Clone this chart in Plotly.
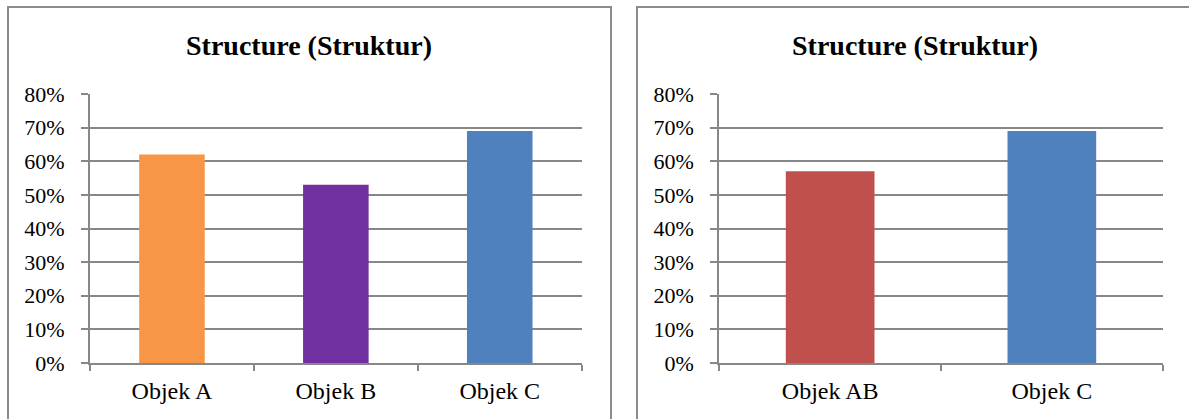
import plotly.graph_objects as go

W, H = 1189, 419

# Chart data
left_categories = ["Objek A", "Objek B", "Objek C"]
left_values = [0.62, 0.53, 0.69]
left_colors = ["#F79646", "#7030A0", "#4F81BD"]

right_categories = ["Objek AB", "Objek C"]
right_values = [0.57, 0.69]
right_colors = ["#C0504D", "#4F81BD"]

chart_title = "Structure (Struktur)"
y_tick_values = [0, 0.1, 0.2, 0.3, 0.4, 0.5, 0.6, 0.7, 0.8]
y_tick_labels = ["0%", "10%", "20%", "30%", "40%", "50%", "60%", "70%", "80%"]

FONT = "Liberation Serif, Times New Roman, serif"
GRID = "#878787"


def px_x(p):
    return p / W


def px_y(p):
    return 1 - p / H


fig = go.Figure()
fig.add_trace(go.Bar(x=left_categories, y=left_values, marker=dict(color=left_colors, line=dict(width=0)),
                     xaxis="x", yaxis="y", showlegend=False))
fig.add_trace(go.Bar(x=right_categories, y=right_values, marker=dict(color=right_colors, line=dict(width=0)),
                     xaxis="x2", yaxis="y2", showlegend=False))

y_domain = [px_y(363), px_y(94)]

common_x = dict(
    type="category", showgrid=False, showline=True, linecolor=GRID, linewidth=2,
    ticks="outside", tickson="boundaries", ticklen=6, tickcolor=GRID, tickwidth=2,
    tickfont=dict(family=FONT, size=24, color="black"), fixedrange=True,
    automargin=False, ticklabelstandoff=5,
)
common_y = dict(
    range=[0, 0.8], tickvals=y_tick_values, ticktext=y_tick_labels,
    showgrid=True, gridcolor=GRID, gridwidth=2, zeroline=False,
    showline=True, linecolor=GRID, linewidth=2,
    ticks="outside", ticklen=7, tickcolor=GRID, tickwidth=2,
    tickfont=dict(family=FONT, size=22, color="black"), fixedrange=True,
    automargin=False, ticklabelstandoff=12,
)

fig.update_layout(
    template="none",
    width=W, height=H,
    margin=dict(l=0, r=0, t=0, b=0, pad=0),
    paper_bgcolor="white", plot_bgcolor="white",
    bargap=0.6,
    xaxis=dict(domain=[px_x(90), px_x(581.7)], anchor="y", **common_x),
    yaxis=dict(domain=y_domain, anchor="x", **common_y),
    xaxis2=dict(domain=[px_x(719.3), px_x(1162.7)], anchor="y2", **common_x),
    yaxis2=dict(domain=y_domain, anchor="x2", **common_y),
)

# Panel frames
for x0, x1 in [(8, 611), (637, 1195)]:
    fig.add_shape(type="rect", xref="paper", yref="paper",
                  x0=px_x(x0), x1=px_x(x1), y0=px_y(430), y1=px_y(7),
                  line=dict(color="#8c8c8c", width=2), fillcolor="rgba(0,0,0,0)", layer="below")

# Panel titles
for cx in [309, 915]:
    fig.add_annotation(text="<b>" + chart_title + "</b>", xref="paper", yref="paper",
                       x=px_x(cx), y=px_y(45), xanchor="center", yanchor="middle",
                       showarrow=False, font=dict(family=FONT, size=28, color="black"))

fig.write_html("out.html")
